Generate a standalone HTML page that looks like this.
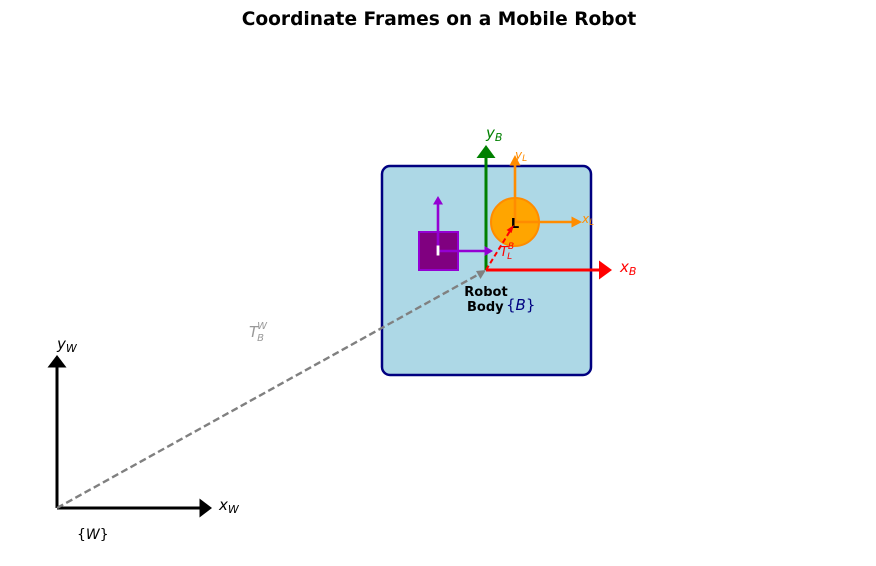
<!DOCTYPE html>
<html><head><meta charset="utf-8"><style>
html,body{margin:0;padding:0;background:#fff;}
svg{display:block;}
text{font-family:"DejaVu Sans","Liberation Sans",sans-serif;}
.it{font-style:italic;}
</style></head><body>
<svg width="876" height="566" viewBox="0 0 876 566" xmlns="http://www.w3.org/2000/svg">
<rect width="876" height="566" fill="#fff"/>
<text x="439" y="25" text-anchor="middle" font-size="18.6" font-weight="bold" fill="#000">Coordinate Frames on a Mobile Robot</text>

<!-- robot body -->
<rect x="382" y="166" width="209" height="209" rx="8" ry="8" fill="#ADD8E6" stroke="#000080" stroke-width="2.5"/>

<!-- world frame -->
<line x1="57" y1="508" x2="57" y2="366" stroke="#000" stroke-width="3"/>
<polygon points="57,355 47.5,367.5 66.5,367.5" fill="#000"/>
<line x1="57" y1="508" x2="200" y2="508" stroke="#000" stroke-width="3"/>
<polygon points="212,508 199.5,498.5 199.5,517.5" fill="#000"/>
<text x="57" y="349" font-size="15" class="it" fill="#000">y<tspan font-size="11" dy="3">W</tspan></text>
<text x="219" y="510" font-size="15" class="it" fill="#000">x<tspan font-size="11" dy="3">W</tspan></text>
<text x="77" y="539" font-size="14" fill="#000">{<tspan class="it">W</tspan>}</text>

<!-- gray dashed T_B^W -->
<line x1="57" y1="508" x2="481" y2="273" stroke="#808080" stroke-width="2.4" stroke-dasharray="7,3.5"/>
<polygon points="486,270 476,271 480.5,279" fill="#808080"/>
<text x="249" y="337" font-size="15" class="it" fill="#999">T<tspan font-size="10" dy="-8" dx="-1">W</tspan><tspan font-size="10" dy="12" dx="-10">B</tspan></text>

<!-- body frame -->
<line x1="486" y1="270" x2="486" y2="157" stroke="#008000" stroke-width="3"/>
<polygon points="486,145 476.5,158 495.5,158" fill="#008000"/>
<line x1="486" y1="270" x2="600" y2="270" stroke="#FF0000" stroke-width="3"/>
<polygon points="612,270 599,260.5 599,279.5" fill="#FF0000"/>
<text x="486" y="138" font-size="15" class="it" fill="#008000">y<tspan font-size="11" dy="3">B</tspan></text>
<text x="620" y="272" font-size="15" class="it" fill="#FF0000">x<tspan font-size="11" dy="3">B</tspan></text>

<!-- IMU -->
<rect x="419" y="232" width="39" height="38" fill="#800080" stroke="#9400D3" stroke-width="2"/>
<line x1="438" y1="251" x2="438" y2="203" stroke="#9400D3" stroke-width="2.6"/>
<polygon points="438,196 433,204.5 443,204.5" fill="#9400D3"/>
<line x1="438" y1="251" x2="485" y2="251" stroke="#9400D3" stroke-width="2.6"/>
<polygon points="493,251 484.5,246 484.5,256" fill="#9400D3"/>
<rect x="436.6" y="245.5" width="2.8" height="10" fill="#fff"/>

<!-- Lidar -->
<circle cx="515" cy="222" r="24" fill="#FFA500" stroke="#FF8C00" stroke-width="2"/>
<line x1="515" y1="222" x2="515" y2="165" stroke="#FF8C00" stroke-width="2.6"/>
<polygon points="515,155 509.5,165.5 520.5,165.5" fill="#FF8C00"/>
<line x1="515" y1="222" x2="572" y2="222" stroke="#FF8C00" stroke-width="2.6"/>
<polygon points="582,222 571.5,216.5 571.5,227.5" fill="#FF8C00"/>
<text x="515" y="159" font-size="12" class="it" fill="#FF8C00">y<tspan font-size="9" dy="2">L</tspan></text>
<text x="582" y="223" font-size="12" class="it" fill="#FF8C00">x<tspan font-size="9" dy="2">L</tspan></text>
<text x="515" y="228" text-anchor="middle" font-size="13" font-weight="bold" fill="#000">L</text>

<!-- red dashed T_L^B -->
<line x1="486" y1="270" x2="510" y2="231" stroke="#FF0000" stroke-width="2" stroke-dasharray="5,3"/>
<polygon points="514,225 506.5,230 511.5,233" fill="#FF0000"/>
<text x="500" y="256" font-size="13" class="it" fill="#FF0000">T<tspan font-size="9" dy="-7">B</tspan><tspan font-size="9" dy="10" dx="-7">L</tspan></text>

<!-- label -->
<text x="486" y="296" text-anchor="middle" font-size="13" font-weight="bold" fill="#000">Robot</text>
<text x="467" y="311" font-size="13" font-weight="bold" fill="#000">Body</text>
<text x="506" y="310" font-size="15" fill="#000080">{<tspan class="it">B</tspan>}</text>
</svg>
</body></html>
